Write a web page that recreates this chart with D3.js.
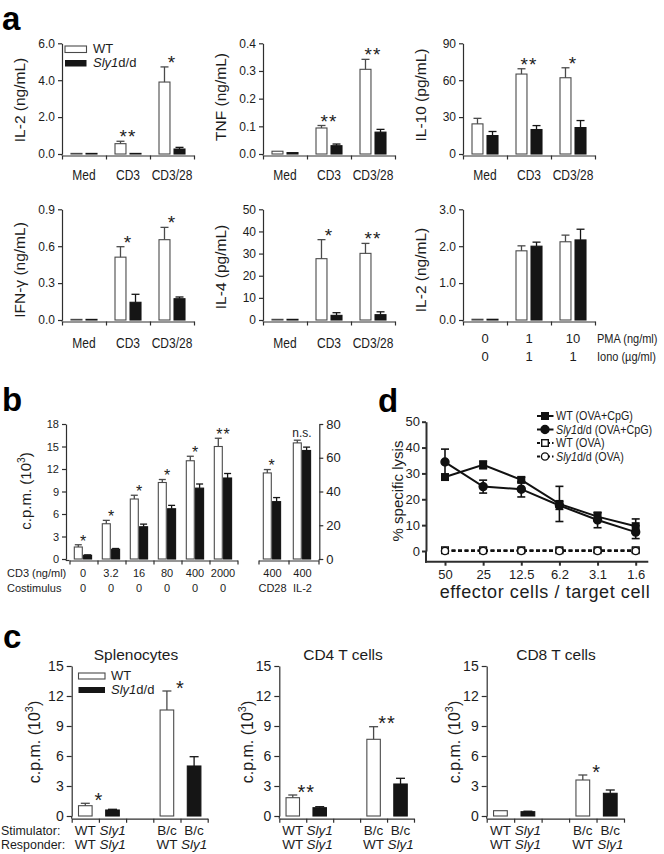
<!DOCTYPE html>
<html><head><meta charset="utf-8">
<script src="https://cdn.jsdelivr.net/npm/d3@7"></script>
<style>
body{margin:0;background:#fff;}
svg{display:block;}
</style></head><body>
<svg id="fig" width="664" height="854"></svg>
<script>
// ================= DATA =================
// Panel a
const aCats = ["Med", "CD3", "CD3/28"];
const il2WT = [0.02, 0.56, 3.9], il2WTErr = [0, 0.13, 0.82];
const il2KO = [0.02, 0.03, 0.27], il2KOErr = [0, 0, 0.09];
const il2Sig = ["", "**", "*"];
const il2Ticks = [0, 2, 4, 6];
const tnfWT = [0.01, 0.094, 0.306], tnfWTErr = [0, 0.009, 0.036];
const tnfKO = [0.005, 0.03, 0.079], tnfKOErr = [0, 0.006, 0.01];
const tnfSig = ["", "**", "**"];
const tnfTicks = [0, 0.1, 0.2, 0.3, 0.4];
const il10WT = [24.5, 65, 62], il10WTErr = [4.5, 4.3, 8.1];
const il10KO = [15, 19.9, 21.5], il10KOErr = [3.3, 3.2, 5.7];
const il10Sig = ["", "**", "*"];
const il10Ticks = [0, 30, 60, 90];
const ifnWT = [0.005, 0.511, 0.653], ifnWTErr = [0, 0.085, 0.1];
const ifnKO = [0.005, 0.144, 0.173], ifnKOErr = [0, 0.065, 0.014];
const ifnSig = ["", "*", "*"];
const ifnTicks = [0, 0.3, 0.6, 0.9];
const il4WT = [0.3, 27.7, 30.1], il4WTErr = [0, 8.6, 4.5];
const il4KO = [0.3, 2.1, 2.4], il4KOErr = [0, 1.2, 1.3];
const il4Sig = ["", "*", "**"];
const il4Ticks = [0, 10, 20, 30, 40, 50];
const pmaCats = ["0", "1", "10"];
const ionoCats = ["0", "1", "1"];
const pmaWT = [0.02, 1.875, 2.12], pmaWTErr = [0, 0.135, 0.18];
const pmaKO = [0.02, 2.0, 2.17], pmaKOErr = [0, 0.11, 0.29];
const pmaSig = ["", "", ""];
const pmaTicks = [0, 1, 2, 3];

// Panel b
const bCD3 = ["0", "3.2", "16", "80", "400", "2000"];
const bCostim = ["0", "0", "0", "0", "0", "0"];
const bWT = [1.6, 4.7, 8.0, 10.2, 13.1, 15.0], bWTErr = [0.3, 0.45, 0.5, 0.4, 0.6, 1.1];
const bKO = [0.5, 1.3, 4.3, 6.7, 9.45, 10.8], bKOErr = [0.05, 0.1, 0.35, 0.45, 0.55, 0.6];
const bSig = ["*", "*", "*", "*", "*", "**"];
const bTicks = [0, 3, 6, 9, 12, 15, 18];
const bRCD3 = ["400", "400"];
const bRCostim = ["CD28", "IL-2"];
const bRWT = [51, 68.8], bRWTErr = [2, 1.6];
const bRKO = [34, 64.3], bRKOErr = [2.4, 2.0];
const bRSig = ["*", "n.s."];
const bRTicks = [0, 20, 40, 60, 80];

// Panel d
const dX = ["50", "25", "12.5", "6.2", "3.1", "1.6"];
const dWTCpG = [28.6, 33.3, 27.5, 18.2, 13.3, 9.6], dWTCpGErr = [0.8, 1.5, 1.0, 6.8, 1.5, 2.8];
const dKOCpG = [34.4, 24.9, 23.9, 17.6, 12.0, 7.3], dKOCpGErr = [5.0, 2.5, 3.0, 1.5, 3.0, 2.5];
const dWTOVA = [0.3, 0.3, 0.3, 0.3, 0.3, 0.3], dWTOVAErr = [0.8, 0.8, 0.8, 0.8, 0.8, 0.8];
const dKOOVA = [0, 0, 0, 0, 0, 0], dKOOVAErr = [0.5, 0.5, 0.5, 0.5, 0.5, 0.5];
const dTicks = [0, 10, 20, 30, 40, 50];

// Panel c
const cStim = ["WT", "Sly1", "", "B/c", "B/c"];
const cResp = ["WT", "Sly1", "", "WT", "Sly1"];
const cGeno = ["WT", "KO", "", "WT", "KO"];
const splVal = [1.03, 0.6, null, 10.6, 5.0], splErr = [0.24, 0.07, null, 1.9, 0.93];
const cd4Val = [1.83, 0.83, null, 7.67, 3.2], cd4Err = [0.27, 0.1, null, 1.26, 0.57];
const cd8Val = [0.53, 0.43, null, 3.6, 2.27], cd8Err = [0, 0.05, null, 0.5, 0.33];
const splSig = ["*", "*"], cd4Sig = ["**", "**"], cd8Sig = ["", "*"];
const cTicks = [0, 3, 6, 9, 12, 15];

// ================= DRAWING =================
const FONT = '"Liberation Sans", Arial, Helvetica, sans-serif';
const INK = "#1c1c1c", AX = "#2e2e2e", WHITE_STROKE = "#4a4a4a", BLACK = "#151515";
const svg = d3.select("#fig").attr("font-family", FONT);

function txt(g, x, y, s, fs, o = {}) {
  let tr = `translate(${x},${y})`;
  if (o.rot) tr += ` rotate(${o.rot})`;
  if (o.sx) tr += ` scale(${o.sx},1)`;
  const t = g.append("text").attr("transform", tr).attr("font-size", fs)
    .attr("text-anchor", o.anchor || "middle").attr("fill", o.fill || INK);
  if (o.weight) t.attr("font-weight", o.weight);
  if (o.italic) t.attr("font-style", "italic");
  if (o.ls) t.attr("letter-spacing", o.ls);
  t.text(s);
  return t;
}
function rich(g, x, y, parts, fs, o = {}) {
  let tr = `translate(${x},${y})`;
  if (o.rot) tr += ` rotate(${o.rot})`;
  if (o.sx) tr += ` scale(${o.sx},1)`;
  const t = g.append("text").attr("transform", tr).attr("font-size", fs)
    .attr("text-anchor", o.anchor || "start").attr("fill", INK);
  parts.forEach(p => {
    const ts = t.append("tspan").text(p.t);
    if (p.i) ts.attr("font-style", "italic");
    if (p.sup) ts.attr("font-size", fs * 0.68).attr("dy", -fs * 0.42);
    if (p.unsup) ts.attr("dy", fs * 0.42);
  });
  return t;
}
function styleAxis(sel, fs, sw = 1.2) {
  sel.attr("font-family", FONT).attr("font-size", fs);
  sel.select(".domain").attr("stroke", AX).attr("stroke-width", sw);
  sel.selectAll(".tick line").attr("stroke", AX).attr("stroke-width", sw);
  sel.selectAll(".tick text").attr("fill", INK);
}
function drawBar(g, x, w, y, v, e, geno, capW) {
  const y0 = y(0), yt = y(v);
  const h = Math.max(y0 - yt, 0.6);
  g.append("rect").attr("x", x).attr("y", y0 - h).attr("width", w).attr("height", h)
    .attr("fill", geno === "WT" ? "#fff" : BLACK)
    .attr("stroke", geno === "WT" ? WHITE_STROKE : BLACK).attr("stroke-width", 1.1);
  if (e > 0) {
    const cx = x + w / 2, ye = y(v + e);
    const col = geno === "WT" ? WHITE_STROKE : BLACK;
    g.append("line").attr("x1", cx).attr("x2", cx).attr("y1", y0 - h).attr("y2", ye).attr("stroke", col).attr("stroke-width", 1.3);
    g.append("line").attr("x1", cx - capW / 2).attr("x2", cx + capW / 2).attr("y1", ye).attr("y2", ye).attr("stroke", col).attr("stroke-width", 1.3);
  }
}
function star(g, x, yCenter, s, fs) {
  if (!s) return;
  if (s === "n.s.") { txt(g, x, yCenter + 4, s, 12, {}); return; }
  txt(g, x, yCenter + fs * 0.58, s, fs, { ls: 1 });
}

// ---------- Panel a ----------
function drawA(c) {
  const g = svg.append("g");
  const y = d3.scaleLinear().domain([0, c.max]).range([c.y0, c.y1]);
  const xb = d3.scaleBand().domain(d3.range(c.cats.length)).range([c.x0, c.x0 + c.w]);
  const xs = d3.scaleBand().domain(["WT", "KO"]).range([9, 35]).paddingInner(0.27);
  const ya = g.append("g").attr("transform", `translate(${c.x0},0)`)
    .call(d3.axisLeft(y).tickValues(c.ticks).tickFormat(c.fmt).tickSizeInner(4).tickSizeOuter(0).tickPadding(3));
  styleAxis(ya, 12);
  g.append("line").attr("x1", c.x0).attr("x2", c.x0).attr("y1", c.y0).attr("y2", c.y0 + 1.5).attr("stroke", AX).attr("stroke-width", 1.2);
  const xl = d3.scaleLinear().domain([0, c.cats.length]).range([c.x0, c.x0 + c.w]);
  const xa = g.append("g").attr("transform", `translate(0,${c.y0 + 1.5})`)
    .call(d3.axisBottom(xl).tickValues(d3.range(c.cats.length + 1)).tickFormat("").tickSizeInner(4).tickSizeOuter(0));
  styleAxis(xa, 12);
  c.cats.forEach((cat, i) => {
    drawBar(g, xb(i) + xs("WT"), xs.bandwidth(), y, c.wt[i], c.wtE[i], "WT", 8);
    drawBar(g, xb(i) + xs("KO"), xs.bandwidth(), y, c.ko[i], c.koE[i], "KO", 8);
    const top = Math.max(c.wt[i] + c.wtE[i], c.ko[i] + c.koE[i]);
    star(g, xb(i) + xb.bandwidth() / 2, y(top) - 9, c.sig[i], 19);
    if (c.catLabels) txt(g, xb(i) + xb.bandwidth() / 2, c.labY, cat, 15, { sx: 0.8 });
  });
  rich(g, c.labX, c.labCY, c.label, 15.5, { rot: -90, anchor: "middle" });
  return { g, xb, y };
}
const fmt1 = d3.format(".1f"), fmt0 = d3.format("d");
drawA({ x0: 62, w: 132, y0: 154, y1: 43.3, max: 6, ticks: il2Ticks, fmt: fmt1, cats: aCats, catLabels: true, labY: 180,
  wt: il2WT, wtE: il2WTErr, ko: il2KO, koE: il2KOErr, sig: il2Sig, label: [{ t: "IL-2 (ng/mL)" }], labX: 25, labCY: 100 });
drawA({ x0: 263, w: 132, y0: 154, y1: 43.3, max: 0.4, ticks: tnfTicks, fmt: fmt1, cats: aCats, catLabels: true, labY: 180,
  wt: tnfWT, wtE: tnfWTErr, ko: tnfKO, koE: tnfKOErr, sig: tnfSig, label: [{ t: "TNF (ng/mL)" }], labX: 226, labCY: 97 });
drawA({ x0: 463, w: 132, y0: 154, y1: 43.3, max: 90, ticks: il10Ticks, fmt: fmt0, cats: aCats, catLabels: true, labY: 180,
  wt: il10WT, wtE: il10WTErr, ko: il10KO, koE: il10KOErr, sig: il10Sig, label: [{ t: "IL-10 (pg/mL)" }], labX: 426, labCY: 95 });
drawA({ x0: 62, w: 132, y0: 320, y1: 209.3, max: 0.9, ticks: ifnTicks, fmt: fmt1, cats: aCats, catLabels: true, labY: 348,
  wt: ifnWT, wtE: ifnWTErr, ko: ifnKO, koE: ifnKOErr, sig: ifnSig, label: [{ t: "IFN-γ (ng/mL)" }], labX: 25, labCY: 270 });
drawA({ x0: 263, w: 132, y0: 320, y1: 209.3, max: 50, ticks: il4Ticks, fmt: fmt0, cats: aCats, catLabels: true, labY: 348,
  wt: il4WT, wtE: il4WTErr, ko: il4KO, koE: il4KOErr, sig: il4Sig, label: [{ t: "IL-4 (pg/mL)" }], labX: 226, labCY: 267 });
const pma = drawA({ x0: 463, w: 132, y0: 320, y1: 209.3, max: 3, ticks: pmaTicks, fmt: fmt1, cats: pmaCats, catLabels: false,
  wt: pmaWT, wtE: pmaWTErr, ko: pmaKO, koE: pmaKOErr, sig: pmaSig, label: [{ t: "IL-2 (ng/mL)" }], labX: 426, labCY: 270 });
pmaCats.forEach((c, i) => txt(pma.g, pma.xb(i) + pma.xb.bandwidth() / 2, 343, c, 13));
ionoCats.forEach((c, i) => txt(pma.g, pma.xb(i) + pma.xb.bandwidth() / 2, 361, c, 13));
txt(pma.g, 597, 343, "PMA (ng/ml)", 12.5, { anchor: "start", sx: 0.88 });
txt(pma.g, 597, 361, "Iono (µg/ml)", 12.5, { anchor: "start", sx: 0.88 });

// legend a
{
  const g = svg.append("g");
  g.append("rect").attr("x", 65).attr("y", 46).attr("width", 21.5).attr("height", 6.5).attr("fill", "#fff").attr("stroke", WHITE_STROKE).attr("stroke-width", 1.1);
  g.append("rect").attr("x", 65).attr("y", 60).attr("width", 21.5).attr("height", 6.5).attr("fill", BLACK);
  rich(g, 93, 53, [{ t: "WT" }], 13);
  rich(g, 93, 67, [{ t: "Sly1", i: true }, { t: "d/d" }], 13);
}

// ---------- Panel b ----------
{
  const g = svg.append("g");
  const y = d3.scaleLinear().domain([0, 18]).range([559, 424]);
  const xb = d3.scaleBand().domain(d3.range(bCD3.length)).range([69.5, 237.5]);
  const xs = d3.scaleBand().domain(["WT", "KO"]).range([4.8, 22.1]).paddingInner(0.14);
  const ya = g.append("g").attr("transform", "translate(66,0)")
    .call(d3.axisLeft(y).tickValues(bTicks).tickFormat(fmt0).tickSizeInner(4).tickSizeOuter(0).tickPadding(3));
  styleAxis(ya, 11);
  const xl = d3.scaleLinear().domain([0, bCD3.length]).range([69.5, 237.5]);
  g.append("line").attr("x1", 66).attr("x2", 69.5).attr("y1", 560.5).attr("y2", 560.5).attr("stroke", AX).attr("stroke-width", 1.2);
  g.append("line").attr("x1", 66).attr("x2", 66).attr("y1", 559).attr("y2", 560.5).attr("stroke", AX).attr("stroke-width", 1.2);
  const xa = g.append("g").attr("transform", "translate(0,560.5)")
    .call(d3.axisBottom(xl).tickValues(d3.range(bCD3.length + 1)).tickFormat("").tickSizeInner(4).tickSizeOuter(0));
  styleAxis(xa, 11);
  bCD3.forEach((c, i) => {
    drawBar(g, xb(i) + xs("WT"), xs.bandwidth(), y, bWT[i], bWTErr[i], "WT", 7);
    drawBar(g, xb(i) + xs("KO"), xs.bandwidth(), y, bKO[i], bKOErr[i], "KO", 7);
    const top = Math.max(bWT[i] + bWTErr[i], bKO[i] + bKOErr[i]);
    star(g, xb(i) + 14, y(top) - 7.5, bSig[i], 16);
    txt(g, xb(i) + 13.5, 577, c, 11);
    txt(g, xb(i) + 13.5, 592, bCostim[i], 11);
  });
  txt(g, 7, 577, "CD3 (ng/ml)", 11, { anchor: "start" });
  txt(g, 7, 592, "Costimulus", 11, { anchor: "start" });
  rich(g, 31, 491, [{ t: "c.p.m. (10" }, { t: "3", sup: true }, { t: ")", unsup: true }], 15, { rot: -90, anchor: "middle" });

  // right part
  const yr = d3.scaleLinear().domain([0, 80]).range([559, 424]);
  const xr = d3.scaleBand().domain(d3.range(bRCD3.length)).range([258.5, 318.5]);
  const yra = g.append("g").attr("transform", "translate(319.3,0)")
    .call(d3.axisRight(yr).tickValues(bRTicks).tickFormat(fmt0).tickSizeInner(4).tickSizeOuter(0).tickPadding(3));
  styleAxis(yra, 13);
  const xrl = d3.scaleLinear().domain([0, bRCD3.length]).range([258.5, 318.5]);
  const xra = g.append("g").attr("transform", "translate(0,560.5)")
    .call(d3.axisBottom(xrl).tickValues(d3.range(bRCD3.length + 1)).tickFormat("").tickSizeInner(4).tickSizeOuter(0));
  styleAxis(xra, 11);
  g.append("line").attr("x1", 319.3).attr("x2", 319.3).attr("y1", 559).attr("y2", 560.5).attr("stroke", AX).attr("stroke-width", 1.2);
  bRCD3.forEach((c, i) => {
    drawBar(g, xr(i) + xs("WT"), xs.bandwidth(), yr, bRWT[i], bRWTErr[i], "WT", 7);
    drawBar(g, xr(i) + xs("KO"), xs.bandwidth(), yr, bRKO[i], bRKOErr[i], "KO", 7);
    const top = Math.max(bRWT[i] + bRWTErr[i], bRKO[i] + bRKOErr[i]);
    star(g, xr(i) + 13.5, yr(top) - 7.5, bRSig[i], 16);
    txt(g, xr(i) + 14, 577, c, 11);
    txt(g, xr(i) + 14, 592, bRCostim[i], 11);
  });
  txt(g, 2, 411, "b", 33, { anchor: "start", weight: "bold", fill: "#000" });
}
txt(svg, 2, 30, "a", 33, { anchor: "start", weight: "bold", fill: "#000" });

// ---------- Panel d ----------
{
  const g = svg.append("g");
  const x = d3.scalePoint().domain(dX).range([445, 635.7]);
  const y = d3.scaleLinear().domain([0, 50]).range([551, 421.7]);
  const ya = g.append("g").attr("transform", "translate(426,0)")
    .call(d3.axisLeft(y).tickValues(dTicks).tickFormat(fmt0).tickSizeInner(4).tickSizeOuter(0).tickPadding(2));
  styleAxis(ya, 13, 2);
  g.append("line").attr("x1", 426).attr("x2", 426).attr("y1", 551).attr("y2", 562.7).attr("stroke", AX).attr("stroke-width", 2);
  const xa = g.append("g").attr("transform", "translate(0,561.7)")
    .call(d3.axisBottom(x).tickSizeInner(4).tickSizeOuter(0).tickPadding(4));
  styleAxis(xa, 13, 2);
  xa.select(".domain").attr("d", "M425,0H648.3");
  const series = [
    { v: dWTOVA, e: dWTOVAErr, dash: "4,2.5", m: "square", fill: "#fff" },
    { v: dKOOVA, e: dKOOVAErr, dash: "4,2.5", m: "circle", fill: "#fff" },
    { v: dWTCpG, e: dWTCpGErr, dash: null, m: "square", fill: "#111" },
    { v: dKOCpG, e: dKOCpGErr, dash: null, m: "circle", fill: "#111" },
  ];
  const line = d3.line().x((d, i) => x(dX[i])).y(d => y(d));
  series.forEach(s => {
    const p = g.append("path").attr("d", line(s.v)).attr("fill", "none").attr("stroke", "#111").attr("stroke-width", 2);
    if (s.dash) p.attr("stroke-dasharray", s.dash);
    s.v.forEach((v, i) => {
      const cx = x(dX[i]);
      const y1 = y(v + s.e[i]), y2 = y(Math.max(v - s.e[i], -0.6));
      g.append("line").attr("x1", cx).attr("x2", cx).attr("y1", y1).attr("y2", y2).attr("stroke", "#111").attr("stroke-width", 1.6);
      g.append("line").attr("x1", cx - 4).attr("x2", cx + 4).attr("y1", y1).attr("y2", y1).attr("stroke", "#111").attr("stroke-width", 1.6);
      g.append("line").attr("x1", cx - 4).attr("x2", cx + 4).attr("y1", y2).attr("y2", y2).attr("stroke", "#111").attr("stroke-width", 1.6);
    });
  });
  function marker(gg, cx, cy, type, fill) {
    if (type === "square") gg.append("rect").attr("x", cx - 3.3).attr("y", cy - 3.3).attr("width", 6.6).attr("height", 6.6).attr("fill", fill).attr("stroke", "#111").attr("stroke-width", 1.4);
    else gg.append("circle").attr("cx", cx).attr("cy", cy).attr("r", fill === "#fff" ? 3.6 : 4).attr("fill", fill).attr("stroke", "#111").attr("stroke-width", 1.4);
  }
  series.forEach(s => s.v.forEach((v, i) => marker(g, x(dX[i]), y(v), s.m, s.fill)));
  // legend
  const leg = [
    { parts: [{ t: "WT (OVA+CpG)" }], m: "square", fill: "#111", dash: null },
    { parts: [{ t: "Sly1", i: true }, { t: "d/d (OVA+CpG)" }], m: "circle", fill: "#111", dash: null },
    { parts: [{ t: "WT (OVA)" }], m: "square", fill: "#fff", dash: "3,2" },
    { parts: [{ t: "Sly1", i: true }, { t: "d/d (OVA)" }], m: "circle", fill: "#fff", dash: "3,2" },
  ];
  leg.forEach((l, i) => {
    const ly = 416 + i * 13.5;
    const ln = g.append("line").attr("x1", 537).attr("x2", 553.5).attr("y1", ly).attr("y2", ly).attr("stroke", "#111").attr("stroke-width", 2);
    if (l.dash) ln.attr("stroke-dasharray", l.dash);
    marker(g, 545, ly, l.m, l.fill);
    rich(g, 556, ly + 4.3, l.parts, 12.5, { sx: 0.86 });
  });
  rich(g, 403, 491, [{ t: "% specific lysis" }], 15, { rot: -90, anchor: "middle" });
  txt(g, 545, 598, "effector cells / target cell", 18, { ls: 0.6 });
  txt(g, 378, 412, "d", 33, { anchor: "start", weight: "bold", fill: "#000" });
}

// ---------- Panel c ----------
function drawC(c) {
  const g = svg.append("g");
  const y = d3.scaleLinear().domain([0, 15]).range([816, 666]);
  const xb = d3.scaleBand().domain(d3.range(cStim.length)).range([c.x0, c.x1]).paddingInner(0.5).paddingOuter(0.25);
  const xl = d3.scaleLinear().domain([0, cStim.length]).range([c.x0, c.x1]);
  const ya = g.append("g").attr("transform", `translate(${c.x0},0)`)
    .call(d3.axisLeft(y).tickValues(cTicks).tickFormat(fmt0).tickSizeInner(5).tickSizeOuter(0).tickPadding(3));
  styleAxis(ya, 14);
  g.append("line").attr("x1", c.x0).attr("x2", c.x0).attr("y1", 816).attr("y2", 818.7).attr("stroke", AX).attr("stroke-width", 1.2);
  const xa = g.append("g").attr("transform", "translate(0,818.7)")
    .call(d3.axisBottom(xl).tickValues(d3.range(cStim.length + 1)).tickFormat("").tickSizeInner(4).tickSizeOuter(0));
  styleAxis(xa, 12);
  c.vals.forEach((v, i) => {
    if (v == null) return;
    drawBar(g, xb(i), xb.bandwidth(), y, v, c.errs[i], cGeno[i], 9);
  });
  // significance between pairs
  [[0, 1], [3, 4]].forEach((pair, k) => {
    const top = d3.max(pair, i => c.vals[i] + c.errs[i]);
    star(g, xl(pair[1]), y(top) - 8, c.sig[k], 20);
  });
  cStim.forEach((s, i) => {
    if (!s) return;
    const cx = xl(i + 0.5);
    txt(g, cx, 835, s, 13.5, { italic: s === "Sly1" });
    txt(g, cx, 849, cResp[i], 13.5, { italic: cResp[i] === "Sly1" });
  });
  txt(g, c.titleX, 660, c.title, 15.5);
  rich(g, c.labX, 742, [{ t: "c.p.m. (10" }, { t: "3", sup: true }, { t: ")", unsup: true }], 16, { rot: -90, anchor: "middle" });
  return g;
}
const spl = drawC({ x0: 71.7, x1: 207.7, vals: splVal, errs: splErr, sig: splSig, title: "Splenocytes", titleX: 136, labX: 40 });
drawC({ x0: 279.3, x1: 414, vals: cd4Val, errs: cd4Err, sig: cd4Sig, title: "CD4 T cells", titleX: 343, labX: 253 });
drawC({ x0: 486.7, x1: 624, vals: cd8Val, errs: cd8Err, sig: cd8Sig, title: "CD8 T cells", titleX: 556, labX: 460 });
{
  const g = spl;
  g.append("rect").attr("x", 78.5).attr("y", 673).attr("width", 26.5).attr("height", 6).attr("fill", "#fff").attr("stroke", WHITE_STROKE).attr("stroke-width", 1.1);
  g.append("rect").attr("x", 78.5).attr("y", 687).attr("width", 26.5).attr("height", 6).attr("fill", BLACK);
  rich(g, 111, 680, [{ t: "WT" }], 13);
  rich(g, 111, 694, [{ t: "Sly1", i: true }, { t: "d/d" }], 13);
  txt(g, 1, 835, "Stimulator:", 13.5, { anchor: "start", sx: 0.92 });
  txt(g, 1, 849, "Responder:", 13.5, { anchor: "start", sx: 0.92 });
  txt(g, 3, 648, "c", 33, { anchor: "start", weight: "bold", fill: "#000" });
}
</script>
</body></html>
